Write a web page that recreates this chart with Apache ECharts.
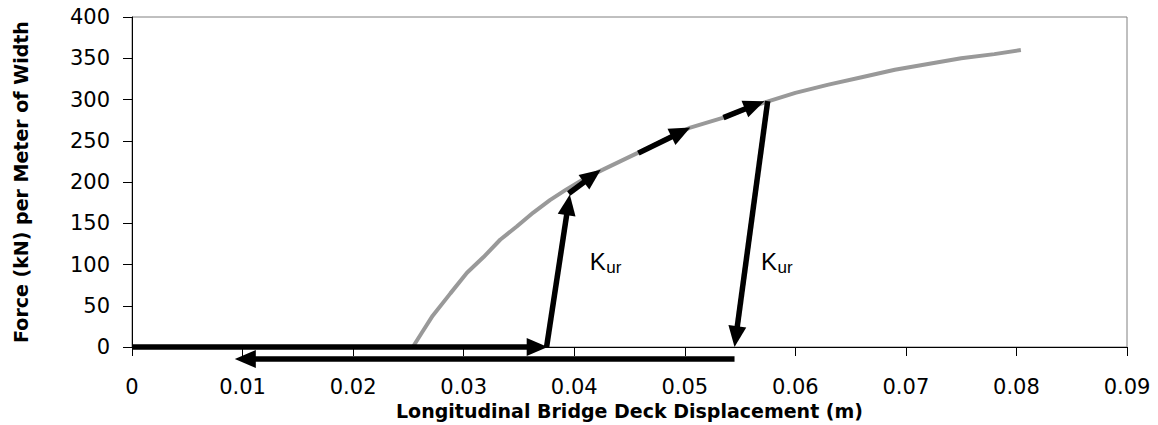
<!DOCTYPE html>
<html>
<head>
<meta charset="utf-8">
<script src="https://cdn.jsdelivr.net/npm/echarts@6/dist/echarts.min.js"></script>
<style>
  html, body { margin: 0; padding: 0; background: #ffffff; }
  #chart { width: 1158px; height: 425px; }
</style>
</head>
<body>
<div id="chart"></div>
<script>
// Backbone force–displacement curve of the abutment backfill
const curveDisp  = [0.0254, 0.0262, 0.0272, 0.0288, 0.0303, 0.0318, 0.0333, 0.0348, 0.0363, 0.0378,
                    0.0393, 0.0408, 0.0426, 0.0457, 0.0480, 0.0505, 0.0535, 0.0571, 0.0600, 0.0630,
                    0.0660, 0.0690, 0.0720, 0.0750, 0.0780, 0.0804];
const curveForce = [0, 17, 38, 65, 90, 109, 130, 146, 163, 178,
                    191, 203, 215, 235, 250, 266, 278, 296, 308, 318,
                    327, 336, 343, 350, 355, 360];

// Loading / unloading path, one arrow per entry (start -> end)
const arrowFromDisp  = [0,      0.0375, 0.0395, 0.0458, 0.0535, 0.0575, 0.0545];
const arrowFromForce = [0,      0,      186,    235,    278,    298,    -14.5];
const arrowToDisp    = [0.0376, 0.0396, 0.0424, 0.0505, 0.0572, 0.0545, 0.0093];
const arrowToForce   = [0,      185,    215,    266,    298,    0,      -14.5];

// Unload/reload stiffness annotations (top-left anchor of each label)
const kurDisp  = [0.0414, 0.0569];
const kurForce = [117.6, 117.6];
const kurMain = 'K';
const kurSub = 'ur';

// Axis ticks
const xInterval = 0.01;
const yInterval = 50;
const xTickLabels = ['0', '0.01', '0.02', '0.03', '0.04', '0.05', '0.06', '0.07', '0.08', '0.09'];
const yTickLabels = ['0', '50', '100', '150', '200', '250', '300', '350', '400'];

const xTitle = 'Longitudinal Bridge Deck Displacement (m)';
const yTitle = 'Force (kN) per Meter of Width';

const tickFont = 'DejaVu Sans';
const titleFont = 'DejaVu Sans';
const kurFont = 'Liberation Sans';

const curveData = curveDisp.map((x, i) => [x, curveForce[i]]);
const arrowData = arrowFromDisp.map((x, i) => [x, arrowFromForce[i], arrowToDisp[i], arrowToForce[i]]);
const kurData = kurDisp.map((x, i) => [x, kurForce[i]]);

function renderArrow(params, api) {
  const a = api.coord([api.value(0), api.value(1)]);
  const b = api.coord([api.value(2), api.value(3)]);
  const dx = b[0] - a[0], dy = b[1] - a[1];
  const len = Math.hypot(dx, dy);
  const ux = dx / len, uy = dy / len;
  const head = 21, half = 9;
  const bx = b[0] - ux * head, by = b[1] - uy * head;
  return {
    type: 'group',
    children: [
      {
        type: 'line',
        shape: { x1: a[0], y1: a[1], x2: bx + ux * 2, y2: by + uy * 2 },
        style: { stroke: '#000000', lineWidth: 5.5, lineCap: 'butt' }
      },
      {
        type: 'polygon',
        shape: { points: [[b[0], b[1]], [bx - uy * half, by + ux * half], [bx + uy * half, by - ux * half]] },
        style: { fill: '#000000' }
      }
    ]
  };
}

// "K" with a lowered, smaller "ur" subscript
function renderKur(params, api) {
  const p = api.coord([api.value(0), api.value(1)]);
  const mainSize = 24, subSize = 17;
  const mainBaseline = p[1] + mainSize * 0.5 + mainSize * 0.3465;
  const subBaseline = mainBaseline + 3.5;
  return {
    type: 'group',
    children: [
      {
        type: 'text',
        x: p[0],
        y: mainBaseline - mainSize * 0.3465,
        style: {
          text: kurMain, fontFamily: kurFont, fontSize: mainSize,
          align: 'left', verticalAlign: 'middle', fill: '#000000'
        }
      },
      {
        type: 'text',
        x: p[0] + mainSize * 0.667 + 0.5,
        y: subBaseline - subSize * 0.3465,
        style: {
          text: kurSub, fontFamily: kurFont, fontSize: subSize,
          align: 'left', verticalAlign: 'middle', fill: '#000000'
        }
      }
    ]
  };
}

const chart = echarts.init(document.getElementById('chart'), null, { renderer: 'svg' });

chart.setOption({
  animation: false,
  backgroundColor: '#ffffff',
  grid: {
    left: 132, top: 17, width: 995, height: 330,
    show: true, borderColor: '#808080', borderWidth: 1,
    containLabel: false, outerBoundsMode: 'none'
  },
  xAxis: {
    type: 'value',
    min: 0, max: 0.09, interval: xInterval,
    name: xTitle,
    nameLocation: 'middle',
    nameGap: 52,
    nameTextStyle: { fontFamily: titleFont, fontWeight: 'bold', fontSize: 19, color: '#000000' },
    axisLine: { show: true, onZero: false, lineStyle: { color: '#000000', width: 1 } },
    axisTick: { show: true, inside: false, length: 9, lineStyle: { color: '#000000' } },
    axisLabel: {
      margin: 29, fontFamily: tickFont, fontSize: 21, color: '#000000',
      formatter: v => xTickLabels[Math.round(v / xInterval)]
    },
    splitLine: { show: false }
  },
  yAxis: {
    type: 'value',
    min: 0, max: 400, interval: yInterval,
    name: yTitle,
    nameLocation: 'middle',
    nameGap: 102,
    nameTextStyle: { fontFamily: titleFont, fontWeight: 'bold', fontSize: 19, color: '#000000' },
    axisLine: { show: true, onZero: false, lineStyle: { color: '#000000', width: 1 } },
    axisTick: { show: true, inside: false, length: 9, lineStyle: { color: '#000000' } },
    axisLabel: {
      margin: 22, fontFamily: tickFont, fontSize: 21, color: '#000000',
      formatter: v => yTickLabels[Math.round(v / yInterval)]
    },
    splitLine: { show: false }
  },
  series: [
    {
      type: 'line',
      data: curveData,
      showSymbol: false,
      symbol: 'none',
      smooth: false,
      clip: false,
      lineStyle: { color: '#999999', width: 4 },
      z: 2
    },
    {
      type: 'custom',
      data: arrowData,
      dimensions: ['x1', 'y1', 'x2', 'y2'],
      encode: { x: [0, 2], y: [1, 3] },
      renderItem: renderArrow,
      clip: false,
      z: 3
    },
    {
      type: 'custom',
      data: kurData,
      encode: { x: 0, y: 1 },
      renderItem: renderKur,
      clip: false,
      z: 4
    }
  ]
});
</script>
</body>
</html>
